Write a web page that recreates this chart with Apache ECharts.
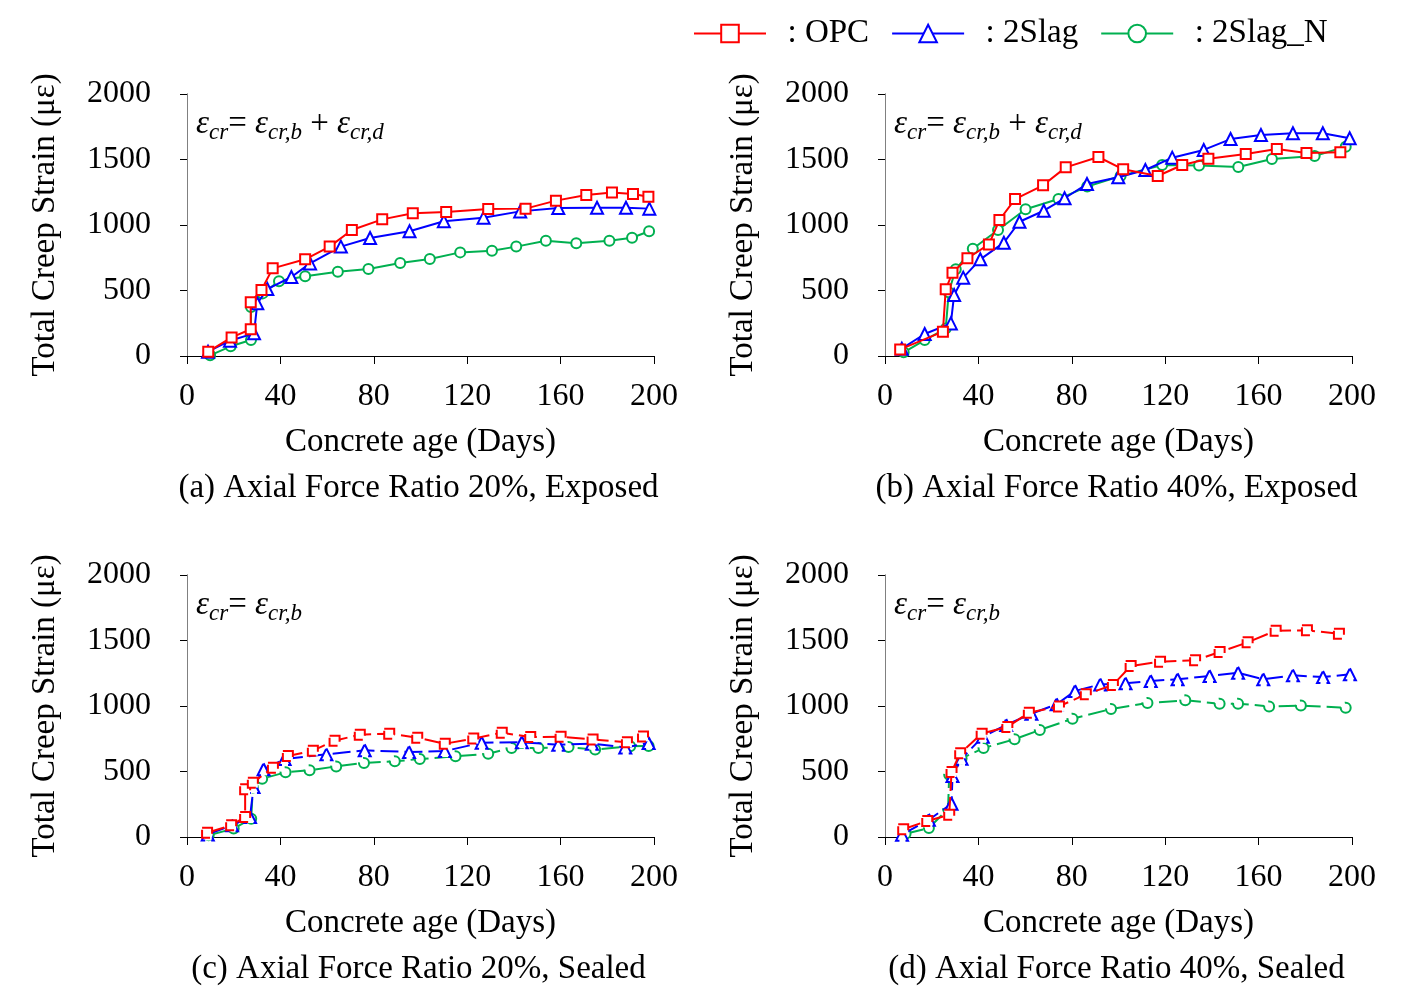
<!DOCTYPE html>
<html>
<head>
<meta charset="utf-8">
<script src="https://cdn.jsdelivr.net/npm/echarts@6/dist/echarts.min.js"></script>
<style>
html, body { margin: 0; padding: 0; background: #fff; }
#main { width: 1412px; height: 1000px; }
</style>
</head>
<body>
<div id="main"></div>
<script>
// ticks
var xTicks = [0, 40, 80, 120, 160, 200];
var yTicks = [0, 500, 1000, 1500, 2000];
var seriesNames = ['OPC', '2Slag', '2Slag_N'];
var captions = [
    '(a) Axial Force Ratio 20%, Exposed',
    '(b) Axial Force Ratio 40%, Exposed',
    '(c) Axial Force Ratio 20%, Sealed',
    '(d) Axial Force Ratio 40%, Sealed'
];

// (a) 20%, exposed  [day, strain]
var aOPC = [[9.1,33],[19.1,142],[27.3,204],[27.3,410],[31.9,504],[36.7,669],[50.6,738],[61.1,835],[70.6,962],[83.6,1043],[96.7,1089],[111,1099],[129,1122],[145,1125],[158,1186],[171,1229],[182,1249],[191,1237],[197.6,1216]];
var a2Slag = [[9,33],[18.4,117],[28.7,173],[30.1,402],[34.4,511],[44.7,603],[52.7,707],[65.9,835],[78.4,901],[95.3,952],[110,1028],[127,1056],[142.7,1104],[159,1130],[175.6,1132],[188,1132],[198,1125]];
var a2SlagN = [[9.9,5],[18.7,74],[27.4,122],[27.4,374],[32.4,478],[39.4,570],[50.6,608],[64.6,644],[77.7,664],[91.3,710],[104,740],[117,791],[130.6,804],[141,835],[153.7,880],[166.7,860],[180.9,880],[190.6,903],[197.9,952]];

// (b) 40%, exposed
var bOPC = [[6.5,50],[24.8,186],[26,509],[28.9,636],[35.3,746],[44.5,852],[49,1038],[55.7,1198],[67.7,1303],[77.4,1440],[91.4,1519],[102,1425],[116.8,1374],[127.3,1458],[138.5,1506],[154.5,1542],[167.8,1580],[180.5,1550],[195,1555]];
var b2Slag = [[7.2,56],[17,168],[28.2,249],[29.6,466],[33.5,598],[40.8,738],[50.9,865],[57.6,1025],[68,1109],[76.9,1204],[86.5,1313],[99.9,1364],[111.5,1420],[123,1514],[136.5,1573],[148,1656],[161,1687],[174.7,1700],[187.5,1700],[199,1662]];
var b2SlagN = [[8,28],[17,122],[26,209],[27.3,486],[30.3,662],[37.6,819],[48.4,962],[60.2,1120],[74.3,1198],[86.6,1293],[100.9,1374],[118.7,1458],[134.5,1455],[151.3,1443],[165.7,1504],[184,1527],[197.3,1598]];

// (c) 20%, sealed
var cOPC = [[8.6,33],[18.9,89],[24.9,153],[24.9,364],[28.2,415],[36.8,529],[43.2,618],[53.9,659],[63.2,735],[74,781],[86.6,789],[98.6,758],[110.4,712],[122.6,751],[134.8,796],[147,763],[160,766],[173.7,745],[188.4,723],[195.3,768]];
var c2Slag = [[8.9,20],[19.3,89],[27,153],[28.5,382],[32.8,517],[41.8,595],[59.7,631],[76.1,662],[95.1,649],[110.4,656],[126.2,720],[143.4,723],[159,705],[173.4,712],[187.7,684],[197.7,718]];
var c2SlagN = [[9.3,13],[20,64],[27.5,140],[28.2,377],[32.2,445],[42.2,494],[52.5,509],[63.9,539],[75.8,565],[89,578],[99.7,595],[115,616],[129,636],[139,679],[150.5,679],[163.4,687],[174.8,667],[189.8,692],[197.7,695]];

// (d) 40%, sealed
var dOPC = [[7.8,59],[18.1,122],[27.5,170],[28.5,496],[32.2,639],[41.4,789],[52.4,840],[61.6,949],[74.5,997],[86,1089],[97.6,1160],[105.2,1305],[117.8,1338],[132.8,1349],[143.3,1412],[155.3,1486],[167.3,1575],[180.7,1578],[194.4,1552]];
var d2Slag = [[7.3,18],[18.8,132],[28.5,254],[28.9,466],[32.8,598],[41.9,766],[51.9,855],[62.7,941],[73.5,1013],[81.4,1115],[92.2,1165],[103,1173],[113.8,1191],[125.3,1204],[139,1229],[151.2,1254],[162,1204],[174.7,1234],[187.6,1221],[199.1,1242]];
var d2SlagN = [[8.8,25],[18.8,69],[27,214],[27.5,476],[32.8,600],[42.2,679],[55.5,746],[66.3,817],[80.3,903],[96.8,977],[112.4,1023],[128.6,1043],[143.3,1018],[151.2,1018],[164.5,997],[178.1,1003],[197.3,987]];

var panelData = [
    [aOPC, a2Slag, a2SlagN],
    [bOPC, b2Slag, b2SlagN],
    [cOPC, c2Slag, c2SlagN],
    [dOPC, d2Slag, d2SlagN]
];
var panelDashed = [false, false, true, true];
var panelFormula = [
    '{e|ε}{s|cr}{o|= }{e|ε}{s|cr,b}{o| + }{e|ε}{s|cr,d}',
    '{e|ε}{s|cr}{o|= }{e|ε}{s|cr,b}{o| + }{e|ε}{s|cr,d}',
    '{e|ε}{s|cr}{o|= }{e|ε}{s|cr,b}',
    '{e|ε}{s|cr}{o|= }{e|ε}{s|cr,b}'
];

var FONT = "'Liberation Serif', 'Times New Roman', serif";
var colors = ['#ff0000', '#0000ff', '#00b050'];
var symbols = ['rect', 'triangle', 'circle'];
var symbolSizes = [10, 12, 10];
var gridPos = [
    {left: 187, top: 94},
    {left: 885, top: 94},
    {left: 187, top: 575},
    {left: 885, top: 575}
];
var PW = 467, PH = 262;

var grids = [], xAxes = [], yAxes = [], series = [], graphics = [];

for (let p = 0; p < 4; p++) {
    grids.push({left: gridPos[p].left, top: gridPos[p].top, width: PW, height: PH, containLabel: false});
    xAxes.push({
        gridIndex: p, type: 'value', min: xTicks[0], max: xTicks[xTicks.length - 1], interval: 40,
        name: 'Concrete age (Days)', nameLocation: 'middle', nameGap: 70,
        nameTextStyle: {fontFamily: FONT, fontSize: 33, color: '#000'},
        axisLine: {show: true, onZero: false, lineStyle: {color: '#000', width: 1}},
        axisTick: {show: true, inside: false, length: 8, lineStyle: {color: '#000'}},
        axisLabel: {margin: 25, fontFamily: FONT, fontSize: 32, color: '#000'},
        splitLine: {show: false}
    });
    // top frame line
    xAxes.push({
        gridIndex: p, type: 'value', position: 'top', min: 0, max: 200,
        axisLine: {show: true, lineStyle: {color: '#000', width: 1}},
        axisTick: {show: false}, axisLabel: {show: false}, splitLine: {show: false}
    });
    yAxes.push({
        gridIndex: p, type: 'value', min: yTicks[0], max: yTicks[yTicks.length - 1], interval: 500,
        name: 'Total Creep Strain (με)', nameLocation: 'middle', nameGap: 125,
        nameTextStyle: {fontFamily: FONT, fontSize: 33, color: '#000'},
        axisLine: {show: true, onZero: false, lineStyle: {color: '#808080', width: 1}},
        axisTick: {show: true, inside: false, length: 7, lineStyle: {color: '#000'}},
        axisLabel: {margin: 36, fontFamily: FONT, fontSize: 32, color: '#000',
            formatter: function (v) { return String(v); }},
        splitLine: {show: false}
    });
    // right frame line
    yAxes.push({
        gridIndex: p, type: 'value', position: 'right', min: 0, max: 2000,
        axisLine: {show: true, lineStyle: {color: '#808080', width: 1}},
        axisTick: {show: false}, axisLabel: {show: false}, splitLine: {show: false}
    });

    for (let s = 0; s < 3; s++) {
        let dash = panelDashed[p] ? [18, 6] : 'solid';
        series.push({
            name: seriesNames[s],
            type: 'line',
            xAxisIndex: p * 2,
            yAxisIndex: p * 2,
            data: panelData[p][s],
            symbol: symbols[s],
            symbolSize: symbolSizes[s],
            showAllSymbol: true,
            lineStyle: {color: colors[s], width: 2, type: dash},
            itemStyle: {color: '#fff', borderColor: colors[s], borderWidth: 2, borderType: panelDashed[p] ? [16, 6] : 'solid'},
            emphasis: {disabled: true},
            z: 3 - s
        });
    }

    graphics.push({
        type: 'text',
        left: gridPos[p].left + 9,
        top: gridPos[p].top + 14,
        style: {
            text: panelFormula[p],
            rich: {
                e: {fontFamily: FONT, fontStyle: 'italic', fontSize: 33, lineHeight: 36, verticalAlign: 'top', fill: '#000'},
                o: {fontFamily: FONT, fontSize: 33, lineHeight: 36, verticalAlign: 'top', fill: '#000'},
                s: {fontFamily: FONT, fontStyle: 'italic', fontSize: 23, lineHeight: 22, verticalAlign: 'bottom', fill: '#000'}
            }
        }
    });
    graphics.push({
        type: 'text',
        x: gridPos[p].left + PW / 2 - 2,
        y: gridPos[p].top + PH + 132,
        style: {
            text: captions[p], fontFamily: FONT, fontSize: 33, fill: '#000',
            textAlign: 'center', textVerticalAlign: 'middle'
        }
    });
}

var chart = echarts.init(document.getElementById('main'));
chart.setOption({
    animation: false,
    backgroundColor: '#fff',
    legend: {
        data: seriesNames,
        left: 688, top: 12,
        itemWidth: 72, itemHeight: 22, itemGap: 22,
        formatter: function (n) { return '  : ' + n; },
        textStyle: {fontFamily: FONT, fontSize: 33, color: '#000'},
        selectedMode: false
    },
    grid: grids,
    xAxis: xAxes,
    yAxis: yAxes,
    series: series,
    graphic: graphics
});
</script>
</body>
</html>
